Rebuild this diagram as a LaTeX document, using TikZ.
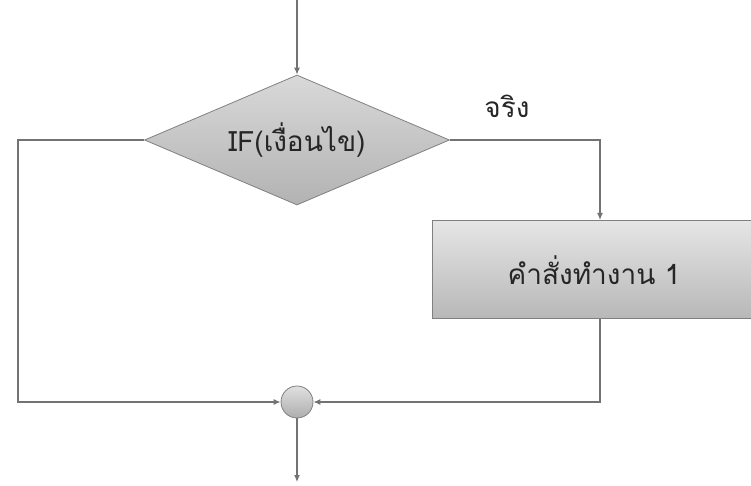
\documentclass[tikz,border=0pt]{standalone}
\usepackage{fontspec}
\newfontfamily\thaifont[Script=Thai]{Loma}
\usetikzlibrary{shapes.geometric,arrows.meta}
\begin{document}
\begin{tikzpicture}[x=1pt,y=-1pt,
  line/.style={draw=black!55, line width=1.2pt},
  arr/.style={line, -{Latex[length=7pt,width=6pt]}},
  lbl/.style={font=\thaifont\fontsize{28}{32}\selectfont, text=black!85}]
\useasboundingbox (0,0) rectangle (751,486);
\node[draw=black!50, line width=0.8pt, diamond, aspect=2.35, minimum width=305pt, minimum height=130pt, inner sep=0pt,
  top color=black!15, bottom color=black!30, lbl] (dec) at (297,140) {IF(เงื่อนไข)};
\node[draw=black!50, line width=0.8pt, rectangle, minimum width=320pt, minimum height=98pt, anchor=north west,
  top color=black!10, bottom color=black!28, inner sep=0pt] (box) at (432,220) {};
\node[lbl] (boxt) at (594,270) {คำสั่งทำงาน 1};
\node[circle, draw=black!50, line width=0.8pt, minimum size=32pt, inner sep=0pt, top color=black!12, bottom color=black!32] (join) at (297,402) {};
\node[lbl] (yes) at (507,106) {จริง};
\coordinate (start) at (297,0);
\coordinate (end) at (297,482);
\coordinate (r1) at (600,140);
\coordinate (l1) at (18,140);
\coordinate (l2) at (18,402);
\coordinate (b1) at (600,402);
\draw[arr] (start) -- (dec.north);
\draw[arr] (dec.east) -- (r1) -- (box.north -| r1);
\draw[arr] (dec.west) -- (l1) -- (l2) -- (join.west);
\draw[arr] (box.south -| b1) -- (b1) -- (join.east);
\draw[arr] (join.south) -- (end);
\end{tikzpicture}
\end{document}
